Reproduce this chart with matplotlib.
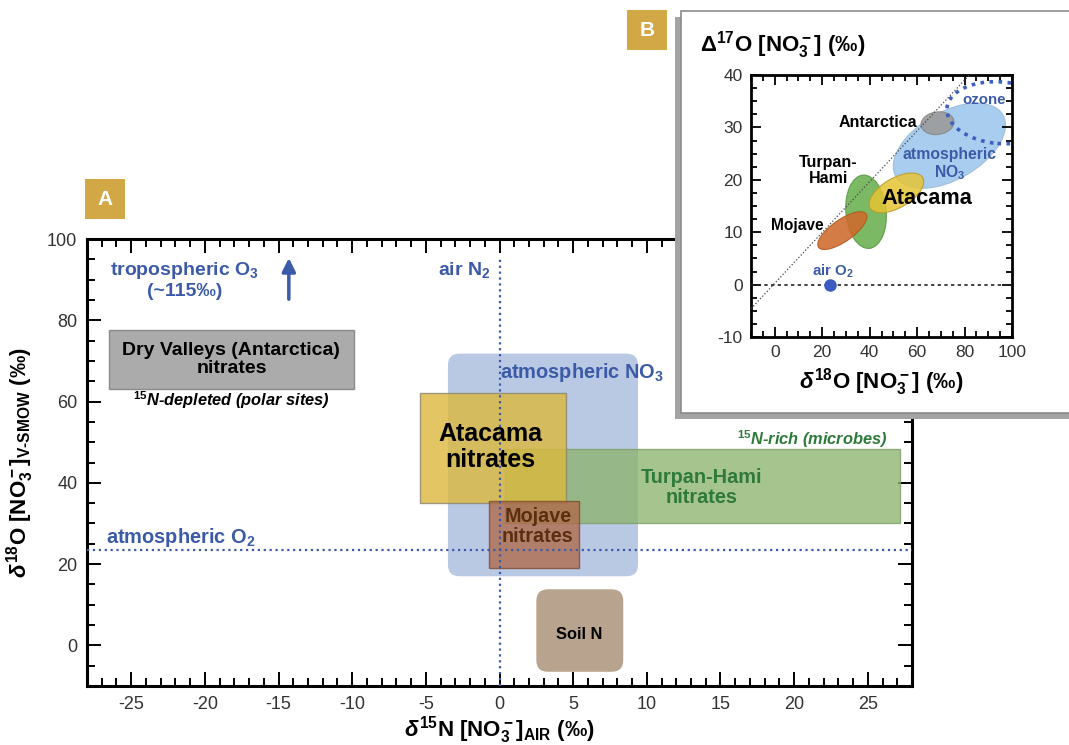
import matplotlib.pyplot as plt
import matplotlib.patches as mpatches
import matplotlib.transforms as mtransforms
from matplotlib.ticker import MultipleLocator

plt.rcParams['font.family'] = ['Liberation Sans', 'DejaVu Sans']
plt.rcParams['mathtext.fontset'] = 'custom'
plt.rcParams['mathtext.rm'] = 'Liberation Sans:bold'
plt.rcParams['mathtext.it'] = 'Liberation Sans:italic:bold'
plt.rcParams['mathtext.bf'] = 'Liberation Sans:bold'
plt.rcParams['axes.unicode_minus'] = False

# --- panel A: nitrate source fields (d15N vs d18O, permil)
box_names = ["Dry Valleys", "atmospheric NO3", "Turpan-Hami", "Atacama", "Mojave", "Soil N"]
box_d15n_lo = [-26.5, -3.5, 0.4, -5.4, -0.7, 2.5]
box_d15n_hi = [-9.9, 9.4, 27.2, 4.5, 5.4, 8.4]
box_d18o_lo = [63.0, 17.0, 30.0, 35.0, 19.0, -6.5]
box_d18o_hi = [77.5, 71.8, 48.2, 62.2, 35.5, 13.8]

air_n2_d15n = 0.0
air_o2_d18o = 23.5
tropo_o3_d15n = -14.3

# --- panel B: d18O vs D17O fields (centre, extent along/across)
ell_names = ["atmospheric NO3", "Antarctica", "Turpan-Hami", "Mojave", "Atacama"]
ell_d18o = [73.6, 68.6, 38.5, 28.5, 51.3]
ell_d17o = [26.5, 30.8, 13.9, 10.3, 17.5]
ell_len = [52.0, 14.0, 31.0, 24.5, 25.6]
ell_wid = [28.5, 9.5, 17.0, 9.2, 12.5]
ell_ang = [30, 8, 95, 35, 30]

ozone_d18o, ozone_d17o = 95.0, 32.8
ozone_len, ozone_wid = 45.0, 26.0

mdf_d18o = [-10, 82]
mdf_d17o = [-4.6, 40]
air_o2_b = (23.5, 0.0)

BLUE = '#3b5aa8'
GOLD = '#d2a846'

fig = plt.figure(figsize=(10.69, 7.45), dpi=100)
ax = fig.add_axes([87/1069, 59/745, 825/1069, 447/745])

box_style = {
    "Dry Valleys": dict(fc='#ababab', ec='#8a8a8a', alpha=1.0, z=2, round=False),
    "atmospheric NO3": dict(fc='#b9c9e4', ec='none', alpha=1.0, z=1, round=True),
    "Turpan-Hami": dict(fc='#8db46f', ec='#7d9c66', alpha=0.78, z=2, round=False),
    "Atacama": dict(fc='#dcb83c', ec='#8a8470', alpha=0.8, z=3, round=False),
    "Mojave": dict(fc='#b0694a', ec='#7a4a30', alpha=0.78, z=4, round=False),
    "Soil N": dict(fc='#b8a48e', ec='none', alpha=1.0, z=2, round=True),
}
for name, x0, x1, y0, y1 in zip(box_names, box_d15n_lo, box_d15n_hi, box_d18o_lo, box_d18o_hi):
    st = box_style[name]
    if st["round"]:
        p = mpatches.FancyBboxPatch((x0, y0), x1 - x0, y1 - y0,
                                    boxstyle="round,pad=0,rounding_size=0.8",
                                    mutation_aspect=3.6, fc=st["fc"], ec=st["ec"],
                                    alpha=st["alpha"], zorder=st["z"])
    else:
        p = mpatches.Rectangle((x0, y0), x1 - x0, y1 - y0, fc=st["fc"], ec=st["ec"],
                               lw=1, alpha=st["alpha"], zorder=st["z"])
    ax.add_patch(p)

# reference lines
ax.plot([air_n2_d15n, air_n2_d15n], [-10, 95.5], ls=':', color=BLUE, lw=1.6, zorder=5)
ax.axhline(air_o2_d18o, ls=':', color=BLUE, lw=1.6, zorder=5)
ax.annotate('', xy=(tropo_o3_d15n, 96), xytext=(tropo_o3_d15n, 84.5),
            arrowprops=dict(arrowstyle='-|>', color=BLUE, lw=2.5, mutation_scale=20))

# labels in panel A
ax.text(-21.4, 90, "tropospheric O$_3$\n(~115‰)", color=BLUE, fontsize=14,
        fontweight='bold', ha='center', va='center', linespacing=1.15)
ax.text(-18.2, 70.3, "Dry Valleys (Antarctica)\nnitrates", fontsize=14,
        fontweight='bold', ha='center', va='center', zorder=6, linespacing=1.1)
ax.text(-18.2, 60.4, "$^{15}$N-depleted (polar sites)", fontsize=11.8, fontweight='bold',
        style='italic', ha='center', va='center')
ax.text(-0.6, 92.3, "air N$_2$", color=BLUE, fontsize=14, fontweight='bold',
        ha='right', va='center')
ax.text(0.0, 67.2, "atmospheric NO$_3$", color=BLUE, fontsize=14.4, fontweight='bold',
        ha='left', va='center', zorder=6)
ax.text(-0.6, 48.8, "Atacama\nnitrates", fontsize=18, fontweight='bold',
        ha='center', va='center', zorder=6, linespacing=1.1)
ax.text(26.3, 50.8, "$^{15}$N-rich (microbes)", color='#2e7a3a', fontsize=11.8,
        fontweight='bold', style='italic', ha='right', va='center')
ax.text(13.7, 38.8, "Turpan-Hami\nnitrates", color='#2e7a3a', fontsize=14.3,
        fontweight='bold', ha='center', va='center', zorder=6, linespacing=1.1)
ax.text(2.6, 29.2, "Mojave\nnitrates", color='#5a2e0e', fontsize=14.2,
        fontweight='bold', ha='center', va='center', zorder=6, linespacing=1.05)
ax.text(5.4, 2.6, "Soil N", fontsize=11.8, fontweight='bold', ha='center', va='center', zorder=6)
ax.text(-26.7, 26.6, "atmospheric O$_2$", color=BLUE, fontsize=14.4, fontweight='bold',
        ha='left', va='center')

ax.set_xlim(-28, 28)
ax.set_ylim(-10, 100)
ax.set_xticks(range(-25, 30, 5))
ax.set_yticks(range(0, 101, 20))
ax.xaxis.set_minor_locator(MultipleLocator(1))
ax.yaxis.set_minor_locator(MultipleLocator(5))
ax.tick_params(which='both', direction='in', top=True, right=True, width=1.4,
               labelsize=13, labelcolor='#333333')
ax.tick_params(which='major', length=10, pad=7)
ax.tick_params(which='minor', length=6)
for s in ax.spines.values():
    s.set_linewidth(2.2)
ax.set_xlabel(r"$\mathit{\delta}^{15}$N [NO$_3^-$]$_{\text{AIR}}$ (‰)", fontsize=16,
              fontweight='bold', labelpad=1)
ax.set_ylabel(r"$\mathit{\delta}^{18}$O [NO$_3^-$]$_{\text{V-SMOW}}$ (‰)", fontsize=16,
              fontweight='bold', labelpad=8)

# panel labels
fig.patches.append(mpatches.Rectangle((85/1069, 1 - 219/745), 40/1069, 40/745, fc=GOLD,
                                      ec='none', transform=fig.transFigure, zorder=1))
fig.text(105/1069, 1 - 199/745, "A", color='white', fontsize=15, fontweight='bold',
         ha='center', va='center')

# inset frame with shadow
fig.patches.append(mpatches.Rectangle((675/1069, 1 - 419/745), 0.4, 402/745, fc='#a3a3a3',
                                      ec='none', transform=fig.transFigure, zorder=1.4))
fig.patches.append(mpatches.Rectangle((681/1069, 1 - 413/745), 0.4, 402/745, fc='white',
                                      ec='#8a8a8a', lw=1.2, transform=fig.transFigure,
                                      zorder=1.5))
fig.patches.append(mpatches.Rectangle((627/1069, 1 - 50/745), 40/1069, 40/745, fc=GOLD,
                                      ec='none', transform=fig.transFigure, zorder=2))
fig.text(647/1069, 1 - 30/745, "B", color='white', fontsize=15, fontweight='bold',
         ha='center', va='center', zorder=3)

# --- panel B
ax2 = fig.add_axes([751/1069, 1 - 337/745, 261/1069, 262/745], zorder=3)
ax2.set_xlim(-10, 100)
ax2.set_ylim(-10, 40)
k = (50 / 262) / (110 / 261)  # y units per x unit on screen

ell_style = {
    "atmospheric NO3": dict(fc='#a9cdee', ec='#9fbfdd', alpha=1.0),
    "Antarctica": dict(fc='#9b9b9b', ec='#888888', alpha=0.9),
    "Turpan-Hami": dict(fc='#6db253', ec='#5a9a45', alpha=0.9),
    "Mojave": dict(fc='#cf6a2b', ec='#b0581f', alpha=0.88),
    "Atacama": dict(fc='#e6c434', ec='#b89a28', alpha=0.85),
}
for name, cx, cy, ln, wd, ang in zip(ell_names, ell_d18o, ell_d17o, ell_len, ell_wid, ell_ang):
    st = ell_style[name]
    tr = mtransforms.Affine2D().scale(1, k).translate(cx, cy) + ax2.transData
    ax2.add_patch(mpatches.Ellipse((0, 0), ln, wd, angle=ang, transform=tr,
                                   fc=st["fc"], ec=st["ec"], lw=0.8, alpha=st["alpha"]))

tr = mtransforms.Affine2D().scale(1, k).translate(ozone_d18o, ozone_d17o) + ax2.transData
ax2.add_patch(mpatches.Ellipse((0, 0), ozone_len, ozone_wid, angle=-5, transform=tr,
                               fc='none', ec='#3e5fc0', lw=2.6, ls=(0, (1, 1.5)), zorder=4))

ax2.plot(mdf_d18o, mdf_d17o, ls=':', color='#444444', lw=0.9, zorder=3)
ax2.axhline(0, ls=(0, (2, 2)), color='#222222', lw=1.2, zorder=3)
ax2.plot(*air_o2_b, 'o', color='#3b5cc0', ms=8, zorder=5)

ax2.text(88.3, 35.2, "ozone", color=BLUE, fontsize=10.8, fontweight='bold', ha='center',
         va='center', zorder=6)
ax2.text(60.2, 30.9, "Antarctica", fontsize=11.5, fontweight='bold', ha='right', va='center')
ax2.text(73.6, 23.0, "atmospheric\nNO$_3$", color=BLUE, fontsize=11.3, fontweight='bold',
         ha='center', va='center', linespacing=1.1, zorder=6)
ax2.text(22.6, 21.7, "Turpan-\nHami", fontsize=11.5, fontweight='bold', ha='center',
         va='center', linespacing=1.1)
ax2.text(64.0, 16.4, "Atacama", fontsize=15.7, fontweight='bold', ha='center', va='center',
         zorder=6)
ax2.text(9.6, 11.2, "Mojave", fontsize=11.2, fontweight='bold', ha='center', va='center')
ax2.text(24.3, 2.6, "air O$_2$", color=BLUE, fontsize=10.8, fontweight='bold',
         ha='center', va='center')

ax2.set_xticks(range(0, 101, 20))
ax2.set_yticks(range(-10, 41, 10))
ax2.xaxis.set_minor_locator(MultipleLocator(5))
ax2.yaxis.set_minor_locator(MultipleLocator(2.5))
ax2.tick_params(which='both', direction='in', top=True, right=True, width=1.3,
                labelsize=12.5, labelcolor='#333333')
ax2.tick_params(which='major', length=7, pad=6)
ax2.tick_params(which='minor', length=4)
for s in ax2.spines.values():
    s.set_linewidth(2.0)
ax2.set_xlabel(r"$\mathit{\delta}^{18}$O [NO$_3^-$] (‰)", fontsize=16, fontweight='bold',
               labelpad=4)
fig.text(700/1069, 1 - 45/745, r"$\Delta^{17}$O [NO$_3^-$] (‰)", fontsize=16,
         fontweight='bold', ha='left', va='center', zorder=4)

fig.savefig("out.png", dpi=100)
